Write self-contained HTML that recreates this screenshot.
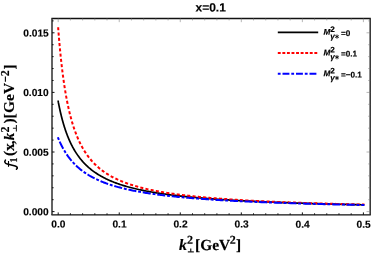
<!DOCTYPE html>
<html><head><meta charset="utf-8"><title>x=0.1</title>
<style>html,body{margin:0;padding:0;background:#fff}svg{display:block;will-change:transform}</style></head>
<body>
<svg width="374" height="254" viewBox="0 0 374 254">
<rect width="374" height="254" fill="#fff"/>
<path d="M58.20,101.43 L58.20,101.45 L58.21,101.51 L58.23,101.60 L58.25,101.72 L58.28,101.88 L58.32,102.08 L58.37,102.31 L58.42,102.58 L58.47,102.88 L58.54,103.21 L58.61,103.58 L58.69,103.97 L58.77,104.40 L58.86,104.86 L58.96,105.35 L59.07,105.87 L59.18,106.42 L59.30,106.99 L59.42,107.59 L59.56,108.22 L59.70,108.87 L59.84,109.54 L59.99,110.24 L60.15,110.95 L60.32,111.69 L60.49,112.44 L60.67,113.22 L60.86,114.01 L61.05,114.81 L61.25,115.63 L61.46,116.47 L61.67,117.31 L61.89,118.17 L62.12,119.04 L62.35,119.92 L62.59,120.80 L62.84,121.70 L63.10,122.60 L63.36,123.50 L63.63,124.41 L63.90,125.33 L64.18,126.25 L64.47,127.17 L64.77,128.09 L65.07,129.01 L65.38,129.94 L65.69,130.86 L66.01,131.78 L66.34,132.70 L66.68,133.62 L67.02,134.54 L67.37,135.45 L67.73,136.35 L68.09,137.26 L68.46,138.16 L68.83,139.05 L69.22,139.94 L69.61,140.82 L70.00,141.69 L70.41,142.56 L70.82,143.42 L71.24,144.28 L71.66,145.12 L72.09,145.96 L72.53,146.79 L72.97,147.62 L73.42,148.43 L73.88,149.24 L74.35,150.04 L74.82,150.82 L75.29,151.60 L75.78,152.38 L76.27,153.14 L76.77,153.89 L77.28,154.63 L77.79,155.37 L78.31,156.09 L78.83,156.81 L79.36,157.52 L79.90,158.22 L80.45,158.91 L81.00,159.59 L81.56,160.26 L82.13,160.92 L82.70,161.57 L83.28,162.21 L83.87,162.85 L84.46,163.47 L85.06,164.09 L85.67,164.70 L86.28,165.30 L86.90,165.89 L87.53,166.47 L88.16,167.04 L88.80,167.61 L89.45,168.16 L90.11,168.71 L90.77,169.25 L91.44,169.79 L92.11,170.31 L92.79,170.83 L93.48,171.34 L94.18,171.84 L94.88,172.33 L95.59,172.82 L96.30,173.30 L97.02,173.77 L97.75,174.23 L98.49,174.69 L99.23,175.14 L99.98,175.58 L100.74,176.02 L101.50,176.45 L102.27,176.87 L103.05,177.29 L103.83,177.70 L104.62,178.11 L105.42,178.51 L106.22,178.90 L107.03,179.28 L107.85,179.66 L108.67,180.04 L109.50,180.41 L110.34,180.77 L111.19,181.13 L112.04,181.48 L112.90,181.83 L113.76,182.17 L114.63,182.51 L115.51,182.84 L116.39,183.17 L117.29,183.49 L118.19,183.81 L119.09,184.12 L120.00,184.43 L120.92,184.73 L121.85,185.03 L122.78,185.32 L123.72,185.61 L124.67,185.90 L125.62,186.18 L126.58,186.46 L127.54,186.73 L128.52,187.00 L129.50,187.27 L130.48,187.53 L131.48,187.78 L132.48,188.04 L133.49,188.29 L134.50,188.53 L135.52,188.78 L136.55,189.02 L137.58,189.25 L138.62,189.49 L139.67,189.72 L140.73,189.94 L141.79,190.16 L142.86,190.38 L143.93,190.60 L145.01,190.81 L146.10,191.03 L147.20,191.23 L148.30,191.44 L149.41,191.64 L150.52,191.84 L151.65,192.03 L152.77,192.23 L153.91,192.42 L155.05,192.61 L156.20,192.79 L157.36,192.98 L158.52,193.16 L159.69,193.34 L160.87,193.51 L162.05,193.69 L163.24,193.86 L164.44,194.03 L165.64,194.19 L166.85,194.36 L168.07,194.52 L169.30,194.68 L170.53,194.84 L171.76,194.99 L173.01,195.15 L174.26,195.30 L175.52,195.45 L176.78,195.60 L178.06,195.74 L179.33,195.89 L180.62,196.03 L181.91,196.17 L183.21,196.31 L184.52,196.45 L185.83,196.58 L187.15,196.72 L188.47,196.85 L189.81,196.98 L191.15,197.11 L192.49,197.23 L193.84,197.36 L195.20,197.48 L196.57,197.60 L197.94,197.73 L199.32,197.84 L200.71,197.96 L202.11,198.08 L203.51,198.19 L204.91,198.31 L206.33,198.42 L207.75,198.53 L209.18,198.64 L210.61,198.75 L212.05,198.86 L213.50,198.96 L214.95,199.07 L216.42,199.17 L217.88,199.27 L219.36,199.37 L220.84,199.47 L222.33,199.57 L223.83,199.67 L225.33,199.76 L226.84,199.86 L228.35,199.95 L229.88,200.04 L231.40,200.14 L232.94,200.23 L234.48,200.32 L236.03,200.41 L237.59,200.49 L239.15,200.58 L240.72,200.67 L242.30,200.75 L243.88,200.83 L245.47,200.92 L247.07,201.00 L248.68,201.08 L250.29,201.16 L251.90,201.24 L253.53,201.32 L255.16,201.40 L256.80,201.47 L258.44,201.55 L260.09,201.62 L261.75,201.70 L263.42,201.77 L265.09,201.84 L266.77,201.92 L268.45,201.99 L270.14,202.06 L271.84,202.13 L273.55,202.20 L275.26,202.26 L276.98,202.33 L278.71,202.40 L280.44,202.46 L282.18,202.53 L283.93,202.59 L285.68,202.66 L287.44,202.72 L289.21,202.78 L290.98,202.85 L292.76,202.91 L294.55,202.97 L296.34,203.03 L298.14,203.09 L299.95,203.15 L301.76,203.20 L303.58,203.26 L305.41,203.32 L307.25,203.38 L309.09,203.43 L310.94,203.49 L312.79,203.54 L314.65,203.60 L316.52,203.65 L318.40,203.70 L320.28,203.76 L322.17,203.81 L324.06,203.86 L325.97,203.91 L327.87,203.96 L329.79,204.01 L331.71,204.06 L333.64,204.11 L335.58,204.16 L337.52,204.21 L339.47,204.26 L341.43,204.31 L343.39,204.35 L345.36,204.40 L347.34,204.45 L349.32,204.49 L351.31,204.54 L353.31,204.58 L355.32,204.63 L357.33,204.67 L359.34,204.71 L361.37,204.76 L363.40,204.80" fill="none" stroke="#000" stroke-width="1.7" stroke-linecap="square"/>
<path d="M58.20,28.18 L58.20,28.22 L58.21,28.36 L58.23,28.58 L58.25,28.89 L58.28,29.29 L58.32,29.78 L58.37,30.35 L58.42,31.01 L58.47,31.75 L58.54,32.56 L58.61,33.46 L58.69,34.43 L58.77,35.48 L58.86,36.60 L58.96,37.78 L59.07,39.03 L59.18,40.34 L59.30,41.71 L59.42,43.14 L59.56,44.62 L59.70,46.15 L59.84,47.73 L59.99,49.35 L60.15,51.01 L60.32,52.71 L60.49,54.44 L60.67,56.21 L60.86,58.00 L61.05,59.81 L61.25,61.65 L61.46,63.51 L61.67,65.38 L61.89,67.27 L62.12,69.16 L62.35,71.07 L62.59,72.98 L62.84,74.89 L63.10,76.81 L63.36,78.72 L63.63,80.63 L63.90,82.54 L64.18,84.44 L64.47,86.33 L64.77,88.21 L65.07,90.08 L65.38,91.94 L65.69,93.78 L66.01,95.61 L66.34,97.42 L66.68,99.22 L67.02,100.99 L67.37,102.75 L67.73,104.49 L68.09,106.20 L68.46,107.90 L68.83,109.57 L69.22,111.23 L69.61,112.86 L70.00,114.46 L70.41,116.05 L70.82,117.61 L71.24,119.14 L71.66,120.66 L72.09,122.15 L72.53,123.61 L72.97,125.05 L73.42,126.47 L73.88,127.86 L74.35,129.24 L74.82,130.58 L75.29,131.91 L75.78,133.21 L76.27,134.48 L76.77,135.74 L77.28,136.97 L77.79,138.18 L78.31,139.37 L78.83,140.54 L79.36,141.68 L79.90,142.80 L80.45,143.90 L81.00,144.99 L81.56,146.05 L82.13,147.09 L82.70,148.11 L83.28,149.11 L83.87,150.09 L84.46,151.06 L85.06,152.00 L85.67,152.93 L86.28,153.84 L86.90,154.73 L87.53,155.61 L88.16,156.46 L88.80,157.31 L89.45,158.13 L90.11,158.94 L90.77,159.73 L91.44,160.51 L92.11,161.28 L92.79,162.03 L93.48,162.76 L94.18,163.48 L94.88,164.19 L95.59,164.88 L96.30,165.56 L97.02,166.23 L97.75,166.88 L98.49,167.52 L99.23,168.15 L99.98,168.77 L100.74,169.38 L101.50,169.97 L102.27,170.55 L103.05,171.13 L103.83,171.69 L104.62,172.24 L105.42,172.78 L106.22,173.31 L107.03,173.83 L107.85,174.34 L108.67,174.85 L109.50,175.34 L110.34,175.82 L111.19,176.30 L112.04,176.76 L112.90,177.22 L113.76,177.67 L114.63,178.11 L115.51,178.55 L116.39,178.97 L117.29,179.39 L118.19,179.80 L119.09,180.21 L120.00,180.60 L120.92,180.99 L121.85,181.38 L122.78,181.75 L123.72,182.12 L124.67,182.49 L125.62,182.84 L126.58,183.19 L127.54,183.54 L128.52,183.88 L129.50,184.21 L130.48,184.54 L131.48,184.86 L132.48,185.18 L133.49,185.49 L134.50,185.80 L135.52,186.10 L136.55,186.39 L137.58,186.69 L138.62,186.97 L139.67,187.25 L140.73,187.53 L141.79,187.81 L142.86,188.07 L143.93,188.34 L145.01,188.60 L146.10,188.85 L147.20,189.11 L148.30,189.35 L149.41,189.60 L150.52,189.84 L151.65,190.08 L152.77,190.31 L153.91,190.54 L155.05,190.76 L156.20,190.99 L157.36,191.20 L158.52,191.42 L159.69,191.63 L160.87,191.84 L162.05,192.05 L163.24,192.25 L164.44,192.45 L165.64,192.65 L166.85,192.84 L168.07,193.03 L169.30,193.22 L170.53,193.41 L171.76,193.59 L173.01,193.77 L174.26,193.95 L175.52,194.12 L176.78,194.29 L178.06,194.46 L179.33,194.63 L180.62,194.80 L181.91,194.96 L183.21,195.12 L184.52,195.28 L185.83,195.43 L187.15,195.59 L188.47,195.74 L189.81,195.89 L191.15,196.04 L192.49,196.18 L193.84,196.33 L195.20,196.47 L196.57,196.61 L197.94,196.75 L199.32,196.88 L200.71,197.02 L202.11,197.15 L203.51,197.28 L204.91,197.41 L206.33,197.54 L207.75,197.66 L209.18,197.79 L210.61,197.91 L212.05,198.03 L213.50,198.15 L214.95,198.27 L216.42,198.39 L217.88,198.50 L219.36,198.61 L220.84,198.73 L222.33,198.84 L223.83,198.95 L225.33,199.05 L226.84,199.16 L228.35,199.26 L229.88,199.37 L231.40,199.47 L232.94,199.57 L234.48,199.67 L236.03,199.77 L237.59,199.87 L239.15,199.97 L240.72,200.06 L242.30,200.16 L243.88,200.25 L245.47,200.34 L247.07,200.43 L248.68,200.52 L250.29,200.61 L251.90,200.70 L253.53,200.78 L255.16,200.87 L256.80,200.95 L258.44,201.04 L260.09,201.12 L261.75,201.20 L263.42,201.28 L265.09,201.36 L266.77,201.44 L268.45,201.52 L270.14,201.60 L271.84,201.67 L273.55,201.75 L275.26,201.82 L276.98,201.90 L278.71,201.97 L280.44,202.04 L282.18,202.11 L283.93,202.18 L285.68,202.25 L287.44,202.32 L289.21,202.39 L290.98,202.46 L292.76,202.53 L294.55,202.59 L296.34,202.66 L298.14,202.72 L299.95,202.79 L301.76,202.85 L303.58,202.91 L305.41,202.97 L307.25,203.04 L309.09,203.10 L310.94,203.16 L312.79,203.22 L314.65,203.27 L316.52,203.33 L318.40,203.39 L320.28,203.45 L322.17,203.50 L324.06,203.56 L325.97,203.62 L327.87,203.67 L329.79,203.72 L331.71,203.78 L333.64,203.83 L335.58,203.88 L337.52,203.94 L339.47,203.99 L341.43,204.04 L343.39,204.09 L345.36,204.14 L347.34,204.19 L349.32,204.24 L351.31,204.29 L353.31,204.33 L355.32,204.38 L357.33,204.43 L359.34,204.48 L361.37,204.52 L363.40,204.57" fill="none" stroke="#f00" stroke-width="2" stroke-linecap="square" stroke-dasharray="1.1 4.2"/>
<path d="M58.20,138.19 L58.20,138.19 L58.21,138.22 L58.23,138.26 L58.25,138.32 L58.28,138.39 L58.32,138.48 L58.37,138.59 L58.42,138.71 L58.47,138.85 L58.54,139.01 L58.61,139.17 L58.69,139.36 L58.77,139.56 L58.86,139.77 L58.96,140.00 L59.07,140.25 L59.18,140.50 L59.30,140.78 L59.42,141.06 L59.56,141.36 L59.70,141.67 L59.84,141.99 L59.99,142.32 L60.15,142.67 L60.32,143.02 L60.49,143.39 L60.67,143.77 L60.86,144.15 L61.05,144.55 L61.25,144.96 L61.46,145.37 L61.67,145.79 L61.89,146.22 L62.12,146.66 L62.35,147.10 L62.59,147.55 L62.84,148.01 L63.10,148.47 L63.36,148.94 L63.63,149.42 L63.90,149.89 L64.18,150.38 L64.47,150.86 L64.77,151.35 L65.07,151.84 L65.38,152.34 L65.69,152.84 L66.01,153.34 L66.34,153.84 L66.68,154.34 L67.02,154.85 L67.37,155.35 L67.73,155.86 L68.09,156.37 L68.46,156.87 L68.83,157.38 L69.22,157.88 L69.61,158.39 L70.00,158.89 L70.41,159.40 L70.82,159.90 L71.24,160.40 L71.66,160.90 L72.09,161.40 L72.53,161.89 L72.97,162.38 L73.42,162.87 L73.88,163.36 L74.35,163.85 L74.82,164.33 L75.29,164.81 L75.78,165.29 L76.27,165.76 L76.77,166.23 L77.28,166.70 L77.79,167.16 L78.31,167.62 L78.83,168.07 L79.36,168.53 L79.90,168.98 L80.45,169.42 L81.00,169.86 L81.56,170.30 L82.13,170.73 L82.70,171.16 L83.28,171.59 L83.87,172.01 L84.46,172.43 L85.06,172.84 L85.67,173.25 L86.28,173.65 L86.90,174.05 L87.53,174.45 L88.16,174.84 L88.80,175.23 L89.45,175.62 L90.11,176.00 L90.77,176.37 L91.44,176.74 L92.11,177.11 L92.79,177.48 L93.48,177.84 L94.18,178.19 L94.88,178.54 L95.59,178.89 L96.30,179.23 L97.02,179.57 L97.75,179.91 L98.49,180.24 L99.23,180.57 L99.98,180.89 L100.74,181.21 L101.50,181.53 L102.27,181.84 L103.05,182.15 L103.83,182.45 L104.62,182.75 L105.42,183.05 L106.22,183.35 L107.03,183.64 L107.85,183.92 L108.67,184.21 L109.50,184.49 L110.34,184.76 L111.19,185.04 L112.04,185.30 L112.90,185.57 L113.76,185.83 L114.63,186.09 L115.51,186.35 L116.39,186.60 L117.29,186.85 L118.19,187.10 L119.09,187.34 L120.00,187.59 L120.92,187.82 L121.85,188.06 L122.78,188.29 L123.72,188.52 L124.67,188.75 L125.62,188.97 L126.58,189.19 L127.54,189.41 L128.52,189.62 L129.50,189.84 L130.48,190.05 L131.48,190.25 L132.48,190.46 L133.49,190.66 L134.50,190.86 L135.52,191.06 L136.55,191.25 L137.58,191.44 L138.62,191.63 L139.67,191.82 L140.73,192.01 L141.79,192.19 L142.86,192.37 L143.93,192.55 L145.01,192.72 L146.10,192.90 L147.20,193.07 L148.30,193.24 L149.41,193.41 L150.52,193.57 L151.65,193.74 L152.77,193.90 L153.91,194.06 L155.05,194.22 L156.20,194.37 L157.36,194.53 L158.52,194.68 L159.69,194.83 L160.87,194.98 L162.05,195.13 L163.24,195.27 L164.44,195.42 L165.64,195.56 L166.85,195.70 L168.07,195.84 L169.30,195.97 L170.53,196.11 L171.76,196.24 L173.01,196.37 L174.26,196.50 L175.52,196.63 L176.78,196.76 L178.06,196.89 L179.33,197.01 L180.62,197.13 L181.91,197.25 L183.21,197.37 L184.52,197.49 L185.83,197.61 L187.15,197.73 L188.47,197.84 L189.81,197.96 L191.15,198.07 L192.49,198.18 L193.84,198.29 L195.20,198.40 L196.57,198.50 L197.94,198.61 L199.32,198.71 L200.71,198.82 L202.11,198.92 L203.51,199.02 L204.91,199.12 L206.33,199.22 L207.75,199.32 L209.18,199.42 L210.61,199.51 L212.05,199.61 L213.50,199.70 L214.95,199.79 L216.42,199.88 L217.88,199.97 L219.36,200.06 L220.84,200.15 L222.33,200.24 L223.83,200.33 L225.33,200.41 L226.84,200.50 L228.35,200.58 L229.88,200.67 L231.40,200.75 L232.94,200.83 L234.48,200.91 L236.03,200.99 L237.59,201.07 L239.15,201.15 L240.72,201.22 L242.30,201.30 L243.88,201.38 L245.47,201.45 L247.07,201.52 L248.68,201.60 L250.29,201.67 L251.90,201.74 L253.53,201.81 L255.16,201.88 L256.80,201.95 L258.44,202.02 L260.09,202.09 L261.75,202.16 L263.42,202.22 L265.09,202.29 L266.77,202.36 L268.45,202.42 L270.14,202.49 L271.84,202.55 L273.55,202.61 L275.26,202.67 L276.98,202.74 L278.71,202.80 L280.44,202.86 L282.18,202.92 L283.93,202.98 L285.68,203.04 L287.44,203.09 L289.21,203.15 L290.98,203.21 L292.76,203.26 L294.55,203.32 L296.34,203.38 L298.14,203.43 L299.95,203.48 L301.76,203.54 L303.58,203.59 L305.41,203.64 L307.25,203.70 L309.09,203.75 L310.94,203.80 L312.79,203.85 L314.65,203.90 L316.52,203.95 L318.40,204.00 L320.28,204.05 L322.17,204.10 L324.06,204.15 L325.97,204.19 L327.87,204.24 L329.79,204.29 L331.71,204.33 L333.64,204.38 L335.58,204.43 L337.52,204.47 L339.47,204.52 L341.43,204.56 L343.39,204.60 L345.36,204.65 L347.34,204.69 L349.32,204.73 L351.31,204.77 L353.31,204.82 L355.32,204.86 L357.33,204.90 L359.34,204.94 L361.37,204.98 L363.40,205.02" fill="none" stroke="#00f" stroke-width="2" stroke-linecap="square" stroke-dasharray="0.9 3.8 6.1 3.8"/>
<path d="M51.4,18.45 H370.8 M51.4,214.9 H370.8" fill="none" stroke="#111" stroke-width="1.35"/>
<path d="M52.0,18.45 V214.9 M370.2,18.45 V214.9" fill="none" stroke="#303030" stroke-width="1.5"/>
<path d="M58.20,214.9 v-2.5 M70.41,214.9 v-1.6 M82.62,214.9 v-1.6 M94.82,214.9 v-1.6 M107.03,214.9 v-1.6 M119.24,214.9 v-2.5 M131.45,214.9 v-1.6 M143.66,214.9 v-1.6 M155.86,214.9 v-1.6 M168.07,214.9 v-1.6 M180.28,214.9 v-2.5 M192.49,214.9 v-1.6 M204.70,214.9 v-1.6 M216.90,214.9 v-1.6 M229.11,214.9 v-1.6 M241.32,214.9 v-2.5 M253.53,214.9 v-1.6 M265.74,214.9 v-1.6 M277.94,214.9 v-1.6 M290.15,214.9 v-1.6 M302.36,214.9 v-2.5 M314.57,214.9 v-1.6 M326.78,214.9 v-1.6 M338.98,214.9 v-1.6 M351.19,214.9 v-1.6 M363.40,214.9 v-2.5 M52.0,211.60 h2.5 M52.0,199.68 h1.6 M52.0,187.76 h1.6 M52.0,175.84 h1.6 M52.0,163.92 h1.6 M52.0,152.00 h2.5 M52.0,140.08 h1.6 M52.0,128.16 h1.6 M52.0,116.24 h1.6 M52.0,104.32 h1.6 M52.0,92.40 h2.5 M52.0,80.48 h1.6 M52.0,68.56 h1.6 M52.0,56.64 h1.6 M52.0,44.72 h1.6 M52.0,32.80 h2.5 M52.0,20.88 h1.6" fill="none" stroke="#111" stroke-width="1"/>
<path d="M58.20,18.45 v3.7 M70.41,18.45 v2.0 M82.62,18.45 v2.0 M94.82,18.45 v2.0 M107.03,18.45 v2.0 M119.24,18.45 v3.7 M131.45,18.45 v2.0 M143.66,18.45 v2.0 M155.86,18.45 v2.0 M168.07,18.45 v2.0 M180.28,18.45 v3.7 M192.49,18.45 v2.0 M204.70,18.45 v2.0 M216.90,18.45 v2.0 M229.11,18.45 v2.0 M241.32,18.45 v3.7 M253.53,18.45 v2.0 M265.74,18.45 v2.0 M277.94,18.45 v2.0 M290.15,18.45 v2.0 M302.36,18.45 v3.7 M314.57,18.45 v2.0 M326.78,18.45 v2.0 M338.98,18.45 v2.0 M351.19,18.45 v2.0 M363.40,18.45 v3.7 M370.2,211.60 h-3.7 M370.2,199.68 h-2.0 M370.2,187.76 h-2.0 M370.2,175.84 h-2.0 M370.2,163.92 h-2.0 M370.2,152.00 h-3.7 M370.2,140.08 h-2.0 M370.2,128.16 h-2.0 M370.2,116.24 h-2.0 M370.2,104.32 h-2.0 M370.2,92.40 h-3.7 M370.2,80.48 h-2.0 M370.2,68.56 h-2.0 M370.2,56.64 h-2.0 M370.2,44.72 h-2.0 M370.2,32.80 h-3.7 M370.2,20.88 h-2.0" fill="none" stroke="#7a7a7a" stroke-width="0.55"/>
<g transform="rotate(0.03 187 127)">
<text x="58.50" y="227.6" text-anchor="middle" style="font-family:'Liberation Sans',sans-serif;font-weight:bold;font-size:10.2px;fill:#000;stroke:#000;stroke-width:0.15px">0.0</text>
<text x="119.54" y="227.6" text-anchor="middle" style="font-family:'Liberation Sans',sans-serif;font-weight:bold;font-size:10.2px;fill:#000;stroke:#000;stroke-width:0.15px">0.1</text>
<text x="180.58" y="227.6" text-anchor="middle" style="font-family:'Liberation Sans',sans-serif;font-weight:bold;font-size:10.2px;fill:#000;stroke:#000;stroke-width:0.15px">0.2</text>
<text x="241.62" y="227.6" text-anchor="middle" style="font-family:'Liberation Sans',sans-serif;font-weight:bold;font-size:10.2px;fill:#000;stroke:#000;stroke-width:0.15px">0.3</text>
<text x="302.66" y="227.6" text-anchor="middle" style="font-family:'Liberation Sans',sans-serif;font-weight:bold;font-size:10.2px;fill:#000;stroke:#000;stroke-width:0.15px">0.4</text>
<text x="363.70" y="227.6" text-anchor="middle" style="font-family:'Liberation Sans',sans-serif;font-weight:bold;font-size:10.2px;fill:#000;stroke:#000;stroke-width:0.15px">0.5</text>
<text x="48.7" y="215.40" text-anchor="end" style="font-family:'Liberation Sans',sans-serif;font-weight:bold;font-size:10.2px;fill:#000;stroke:#000;stroke-width:0.15px">0.000</text>
<text x="48.7" y="155.80" text-anchor="end" style="font-family:'Liberation Sans',sans-serif;font-weight:bold;font-size:10.2px;fill:#000;stroke:#000;stroke-width:0.15px">0.005</text>
<text x="48.7" y="96.20" text-anchor="end" style="font-family:'Liberation Sans',sans-serif;font-weight:bold;font-size:10.2px;fill:#000;stroke:#000;stroke-width:0.15px">0.010</text>
<text x="48.7" y="36.60" text-anchor="end" style="font-family:'Liberation Sans',sans-serif;font-weight:bold;font-size:10.2px;fill:#000;stroke:#000;stroke-width:0.15px">0.015</text>
<text x="210.6" y="11.5" text-anchor="middle" style="font-family:'Liberation Sans',sans-serif;font-weight:bold;font-size:12px;fill:#000;stroke:#000;stroke-width:0.15px">x=0.1</text>
<g style="font-family:'Liberation Serif',serif;font-weight:bold;fill:#000;stroke:#000;stroke-width:0.18px;font-size:15.4px"><text x="179.2" y="250" style="font-style:italic;font-size:15.8px">k</text><text x="187.1" y="243.7" style="font-size:12px">2</text><path d="M187.9,251.9 H193.9 M190.8,248.6 V251.9" fill="none" stroke="#222" stroke-width="1.25"/><text x="195.2" y="250">[GeV</text><text x="229.7" y="243.7" style="font-size:12px">2</text><text x="236.2" y="250">]</text></g>
</g>
<g transform="translate(0,254) rotate(-90)" style="font-family:'Liberation Serif',serif;font-weight:bold;fill:#000;stroke:#000;stroke-width:0.18px;font-size:15.4px"><path d="M84.8,16.5 C86.0,18.0 87.4,17.3 88.0,15.2 L90.0,7.3 C90.6,5.0 92.1,4.1 93.9,5.4" fill="none" stroke="#000" stroke-width="1.6" stroke-linecap="round"/><path d="M87.2,8.5 H93.0" fill="none" stroke="#000" stroke-width="1.1"/><text x="91.5" y="16.9" style="font-size:10px">1</text><text x="98.1" y="14.4">(</text><text x="103.1" y="14.4">x</text><text x="109.8" y="14.4">,</text><text x="113.7" y="14.4" style="font-style:italic;font-size:14.8px">k</text><text x="121.5" y="8.7" style="font-size:12px">2</text><path d="M122.5,16.4 H129.0 M125.8,12.9 V16.4" fill="none" stroke="#222" stroke-width="1.1"/><text x="130.5" y="14.4">)</text><text x="135.6" y="14.4" style="letter-spacing:0.2px">[GeV</text><path d="M172.2,5.4 H177.6" fill="none" stroke="#000" stroke-width="1.1"/><text x="177.8" y="8.7" style="font-size:12px">2</text><text x="184.6" y="14.4">]</text></g>
<path d="M277.8,32.4 H318.2" stroke="#000" stroke-width="1.7"/>
<path d="M277.8,53.0 H318.2" stroke="#f00" stroke-width="2" stroke-dasharray="2.9 1.67"/>
<path d="M277.8,73.8 H318.2" stroke="#00f" stroke-width="2" stroke-dasharray="2.8 1.9 6.9 1.9"/>
<g style="font-family:'Liberation Sans',sans-serif;font-weight:bold;fill:#000;font-size:8.2px;stroke:#000;stroke-width:0.15px" transform="rotate(0.03 340 32.4)"><text x="323.4" y="34.80" style="font-style:italic">M</text><text x="330.3" y="32.00">2</text><text x="330.3" y="39.00" style="font-style:italic">γ</text><path d="M337.00,34.50 L337.00,38.70 M335.18,35.55 L338.82,37.65 M338.82,35.55 L335.18,37.65" fill="none" stroke="#000" stroke-width="0.85"/><text x="340.9" y="36.00">=0</text></g>
<g style="font-family:'Liberation Sans',sans-serif;font-weight:bold;fill:#000;font-size:8.2px;stroke:#000;stroke-width:0.15px" transform="rotate(0.03 340 53.0)"><text x="323.4" y="55.40" style="font-style:italic">M</text><text x="330.3" y="52.60">2</text><text x="330.3" y="59.60" style="font-style:italic">γ</text><path d="M337.00,55.10 L337.00,59.30 M335.18,56.15 L338.82,58.25 M338.82,56.15 L335.18,58.25" fill="none" stroke="#000" stroke-width="0.85"/><text x="340.9" y="56.60">=0.1</text></g>
<g style="font-family:'Liberation Sans',sans-serif;font-weight:bold;fill:#000;font-size:8.2px;stroke:#000;stroke-width:0.15px" transform="rotate(0.03 340 73.8)"><text x="323.4" y="76.20" style="font-style:italic">M</text><text x="330.3" y="73.40">2</text><text x="330.3" y="80.40" style="font-style:italic">γ</text><path d="M337.00,75.90 L337.00,80.10 M335.18,76.95 L338.82,79.05 M338.82,76.95 L335.18,79.05" fill="none" stroke="#000" stroke-width="0.85"/><text x="340.9" y="77.40">=−0.1</text></g>
</svg>
</body></html>
